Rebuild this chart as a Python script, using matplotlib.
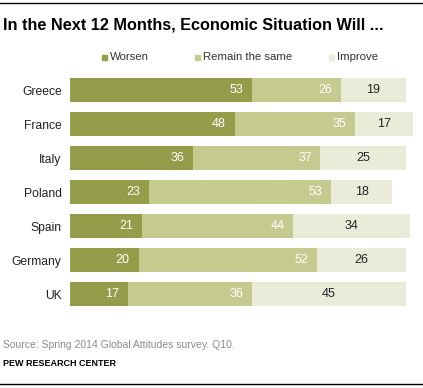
import matplotlib.pyplot as plt
import numpy as np

countries = ['Greece', 'France', 'Italy', 'Poland', 'Spain', 'Germany', 'UK']
worsen = [53, 48, 36, 23, 21, 20, 17]
remain = [26, 35, 37, 53, 44, 52, 36]
improve = [19, 17, 25, 18, 34, 26, 45]

c_worsen = '#959d4a'
c_remain = '#c5cb8f'
c_improve = '#eaebd8'

W, H = 423, 388
fig = plt.figure(figsize=(W / 100, H / 100), dpi=100)
plt.rcParams['font.family'] = ['Liberation Sans', 'DejaVu Sans']

# axes placed in pixel terms
ax = fig.add_axes([70 / W, 1 - 311 / H, 343 / W, 238 / H])
y = np.arange(len(countries))
w = np.array(worsen)
r = np.array(remain)
i = np.array(improve)
ax.barh(y, w, height=0.68, color=c_worsen)
ax.barh(y, r, left=w, height=0.68, color=c_remain)
ax.barh(y, i, left=w + r, height=0.68, color=c_improve)

for k in range(len(countries)):
    ax.text(w[k] - 2.6, k, str(w[k]), ha='right', va='center', color='white', fontsize=9)
    ax.text(w[k] + r[k] - 2.4, k, str(r[k]), ha='right', va='center', color='white', fontsize=9)
    ax.text(w[k] + r[k] + i[k] / 2, k, str(i[k]), ha='center', va='center', color='#222222', fontsize=9)

ax.set_xlim(0, 100)
ax.set_ylim(6.5, -0.5)
ax.set_yticks(y)
ax.set_yticklabels(countries, fontsize=8.7, color='#222222')
ax.tick_params(axis='y', length=0, pad=6)
ax.set_xticks([])
for s in ax.spines.values():
    s.set_visible(False)

# title, legend, notes
fig.text(3 / W, 1 - 25 / H, 'In the Next 12 Months, Economic Situation Will ...',
         fontsize=11.7, fontweight='bold', va='center', ha='left', color='black')

legend_items = [('Worsen', c_worsen, 102), ('Remain the same', c_remain, 195), ('Improve', c_improve, 329)]
for label, col, px in legend_items:
    fig.patches.append(plt.Rectangle((px / W, 1 - 60 / H), 5 / W, 5 / H,
                                     transform=fig.transFigure, color=col))
    fig.text((px + 8) / W, 1 - 57 / H, label, fontsize=8.2, va='center', ha='left', color='#333333')

fig.text(3 / W, 1 - 345 / H, 'Source: Spring 2014 Global Attitudes survey. Q10.',
         fontsize=7.5, color='#8a8a8a', va='center', ha='left')
fig.text(3 / W, 1 - 363 / H, 'PEW RESEARCH CENTER',
         fontsize=6.5, fontweight='bold', color='black', va='center', ha='left')

fig.add_artist(plt.Line2D([0, 1], [1 - 3 / H, 1 - 3 / H], color='black', lw=1))
fig.add_artist(plt.Line2D([0, 1], [1 - 384 / H, 1 - 384 / H], color='black', lw=1))

fig.savefig('out.png', dpi=100)
